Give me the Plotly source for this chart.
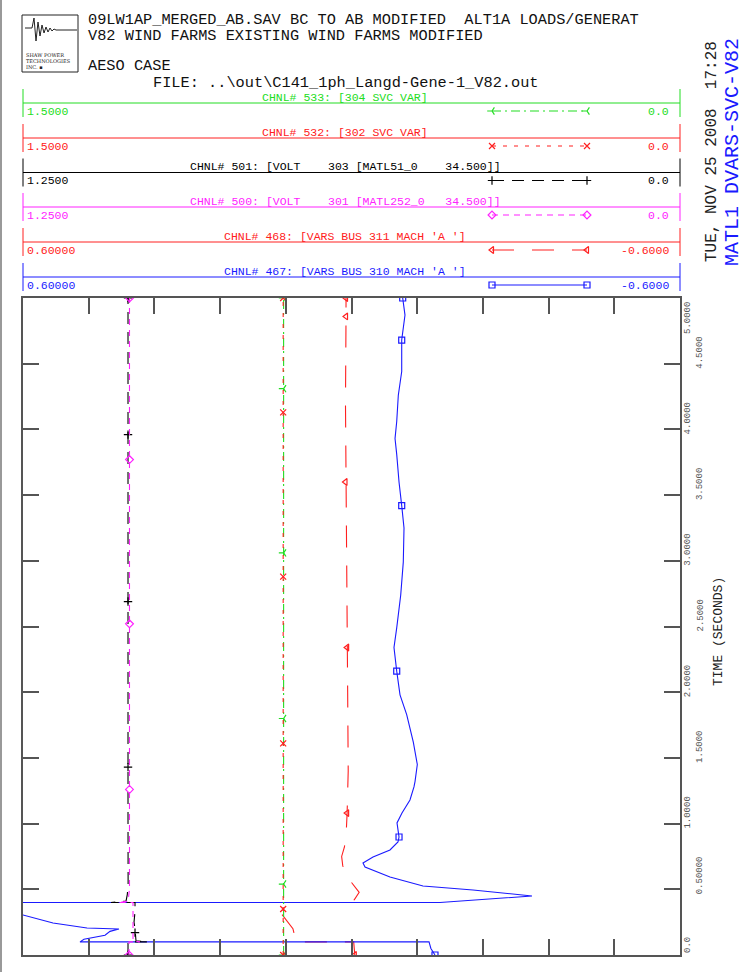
import plotly.graph_objects as go

W, H = 743, 972
FONT = "Liberation Mono"

# ---------------- data (time in seconds, values in channel units) ----------------
# CHNL# 467 VARS BUS 310 (blue)
t467 = [0.0, 0.05, 0.1, 0.1, 0.12, 0.15, 0.18, 0.198, 0.205, 0.244, 0.304, 0.35, 0.4, 0.4,
        0.419, 0.449, 0.495, 0.525, 0.594, 0.670, 0.700, 0.746, 0.799, 0.860, 0.898, 1.005,
        1.081, 1.180, 1.279, 1.32, 1.45, 1.62, 1.83, 1.98, 2.16, 2.34, 2.49, 2.74, 2.99,
        3.25, 3.42, 3.60, 3.81, 3.93, 4.06, 4.26, 4.44, 4.68, 4.87, 5.0]
v467 = [-0.1525, -0.1450, -0.1416, 0.4959, 0.4886, 0.4502, 0.4411, 0.4247, 0.4831, 0.5452,
        0.600, 0.660, 0.720, -0.1616, -0.2219, -0.3297, -0.2219, -0.1306, -0.0703, -0.0247,
        -0.0210, -0.0393, -0.0703, -0.0849, -0.0868, -0.0831, -0.0922, -0.1068, -0.1141,
        -0.1160, -0.1202, -0.1129, -0.1008, -0.0886, -0.0826, -0.0776, -0.0826, -0.0899,
        -0.0946, -0.0959, -0.0917, -0.0868, -0.0826, -0.0795, -0.0826, -0.0855, -0.0917,
        -0.0917, -0.0977, -0.0935]
m467_t = [0.0, 0.898, 2.16, 3.42, 4.68, 5.0]
m467_v = [-0.1525, -0.0868, -0.0826, -0.0917, -0.0917, -0.0935]

# CHNL# 468 VARS BUS 311 (red)
t468 = [0.0, 0.1, 0.1, 0.2, 0.33, 0.4, 0.4, 0.42, 0.477, 0.54, 0.6, 0.68, 0.75, 0.82, 0.9,
        1.08, 1.4, 2.0, 2.55, 3.0, 3.6, 4.2, 4.86, 5.0]
v468 = [-0.006, -0.004, 0.101, 0.107, 0.131, 0.145, 0.003, -0.005, -0.014, -0.002, 0.009,
        0.016, 0.018, 0.013, 0.010, 0.008, 0.006, 0.007, 0.008, 0.009, 0.011, 0.011, 0.010, 0.010]
m468_t = [0.0, 1.08, 2.34, 3.60, 4.86, 5.0]
m468_v = [-0.006, 0.008, 0.008, 0.011, 0.010, 0.010]

# CHNL# 500 VOLT 301 (magenta)
t500 = [0.0, 0.1, 0.1, 0.108, 0.2, 0.3, 0.4, 0.4, 0.41, 0.5, 1.0, 2.0, 3.0, 4.0, 5.0]
v500 = [1.0483, 1.0483, 1.0274, 1.0407, 1.0407, 1.0407, 1.0407, 1.0693, 1.0502, 1.0474,
        1.0474, 1.0474, 1.0474, 1.0474, 1.0474]
m500_t = [0.0, 1.26, 2.52, 3.77, 5.0]
m500_v = [1.0483, 1.0474, 1.0474, 1.0474, 1.0474]

# CHNL# 501 VOLT 303 (black)
t501 = [0.0, 0.1, 0.1, 0.108, 0.2, 0.25, 0.33, 0.4, 0.4, 0.41, 0.46, 0.53, 1.0, 2.0, 3.0, 4.0, 5.0]
v501 = [1.0502, 1.0502, 1.0122, 1.0350, 1.0369, 1.0388, 1.0369, 1.0369, 1.0826, 1.0540,
        1.0516, 1.0500, 1.0502, 1.0502, 1.0502, 1.0502, 1.0502]
m501_t = [0.0, 0.17, 1.43, 2.69, 3.96, 5.0]
m501_v = [1.0502, 1.0369, 1.0502, 1.0502, 1.0502, 1.0502]

# CHNL# 532 302 SVC VAR (red)
t532 = [0.0, 0.1, 0.4, 1.0, 2.0, 3.0, 4.0, 5.0]
v532 = [0.906, 0.906, 0.906, 0.906, 0.906, 0.906, 0.906, 0.906]
m532_t = [0.0, 0.35, 1.61, 2.88, 4.13, 5.0]
m532_v = [0.906, 0.906, 0.906, 0.906, 0.906, 0.906]

# CHNL# 533 304 SVC VAR (green)
t533 = [0.0, 0.1, 0.4, 1.0, 2.0, 3.0, 4.0, 5.0]
v533 = [0.905, 0.905, 0.905, 0.905, 0.905, 0.905, 0.905, 0.905]
m533_t = [0.0, 0.54, 1.80, 3.06, 4.31, 5.0]
m533_v = [0.905, 0.905, 0.905, 0.905, 0.905, 0.905]

# channel header info
chan_titles = ["CHNL# 533: [304 SVC VAR]",
               "CHNL# 532: [302 SVC VAR]",
               "CHNL# 501: [VOLT    303 [MATL51_0    34.500]]",
               "CHNL# 500: [VOLT    301 [MATL252_0   34.500]]",
               "CHNL# 468: [VARS BUS 311 MACH 'A ']",
               "CHNL# 467: [VARS BUS 310 MACH 'A ']"]
chan_left = ["1.5000", "1.5000", "1.2500", "1.2500", "0.60000", "0.60000"]
chan_right = ["0.0", "0.0", "0.0", "0.0", "-0.6000", "-0.6000"]

time_ticks = [0.0, 0.5, 1.0, 1.5, 2.0, 2.5, 3.0, 3.5, 4.0, 4.5, 5.0]
time_labels = ["0.0", "0.50000", "1.0000", "1.5000", "2.0000", "2.5000", "3.0000",
               "3.5000", "4.0000", "4.5000", "5.0000"]
var_ticks = [0.6, 0.48, 0.36, 0.24, 0.12, 0.0, -0.12, -0.24, -0.36, -0.48, -0.6]

# ---------------- styles ----------------
GREEN, RED, BLACK, MAG, BLUE = "#22dd22", "#ff2020", "#000000", "#ff22ff", "#1a1aff"
AX = "#555555"
styles = [  # (color, dash, symbol)
    (GREEN, "9px,4px,2px,4px", "y-left"),
    (RED, "4px,7px", "x-thin"),
    (BLACK, "12px,8px", "cross-thin"),
    (MAG, "6px,5px", "diamond-open"),
    (RED, "22px,18px", "triangle-left-open"),
    (BLUE, "solid", "square-open"),
]

fig = go.Figure()

def add_chan(t, v, m_t, m_v, idx, xa):
    col, dash, sym = styles[idx]
    fig.add_trace(go.Scatter(x=v, y=t, mode="lines", xaxis=xa, yaxis="y",
                             line=dict(color=col, width=1.1, dash=dash), hoverinfo="skip"))
    fig.add_trace(go.Scatter(x=m_v, y=m_t, mode="markers", xaxis=xa, yaxis="y",
                             marker=dict(symbol=sym, size=6, color=col,
                                         line=dict(color=col, width=1.2)),
                             hoverinfo="skip"))

add_chan(t533, v533, m533_t, m533_v, 0, "x2")
add_chan(t532, v532, m532_t, m532_v, 1, "x2")
add_chan(t501, v501, m501_t, m501_v, 2, "x3")
add_chan(t500, v500, m500_t, m500_v, 3, "x3")
add_chan(t468, v468, m468_t, m468_v, 4, "x")
add_chan(t467, v467, m467_t, m467_v, 5, "x")

# ---------------- header (pixel-space overlay axis x4/y4) ----------------
PL, PR = 23, 680
row_y = [103, 138, 172.5, 207, 242, 277]
shapes = []
annotations = []
for i, yy in enumerate(row_y):
    col, dash, sym = styles[i]
    shapes.append(dict(type="line", xref="x4", yref="y4", x0=PL, x1=PR, y0=yy, y1=yy,
                       line=dict(color=col, width=1)))
    for xx in (PL, PR):
        shapes.append(dict(type="line", xref="x4", yref="y4", x0=xx, x1=xx, y0=yy - 14, y1=yy + 14,
                           line=dict(color=col, width=1)))
    annotations.append(dict(xref="x4", yref="y4", x=345, y=yy - 6, text=chan_titles[i],
                            showarrow=False, xanchor="center", yanchor="middle",
                            font=dict(family=FONT, size=11.5, color=col)))
    annotations.append(dict(xref="x4", yref="y4", x=25, y=yy + 8, text=chan_left[i],
                            showarrow=False, xanchor="left", yanchor="middle",
                            font=dict(family=FONT, size=11.5, color=col)))
    annotations.append(dict(xref="x4", yref="y4", x=671, y=yy + 8, text=chan_right[i],
                            showarrow=False, xanchor="right", yanchor="middle",
                            font=dict(family=FONT, size=11.5, color=col)))
    fig.add_trace(go.Scatter(x=[492, 587], y=[yy + 8, yy + 8], mode="lines+markers",
                             xaxis="x4", yaxis="y4",
                             line=dict(color=col, width=1.1, dash=dash),
                             marker=dict(symbol=sym, size=6, color=col, line=dict(color=col, width=1.2)),
                             hoverinfo="skip"))

# title block
title_lines = [(88, 20, "09LW1AP_MERGED_AB.SAV BC TO AB MODIFIED  ALT1A LOADS/GENERAT"),
               (88, 36, "V82 WIND FARMS EXISTING WIND FARMS MODIFIED"),
               (88, 66, "AESO CASE"),
               (153, 83, "FILE: ..\\out\\C141_1ph_Langd-Gene-1_V82.out")]
for x0, y0, txt in title_lines:
    annotations.append(dict(xref="x4", yref="y4", x=x0 - 2, y=y0, text=txt, showarrow=False,
                            xanchor="left", yanchor="middle",
                            font=dict(family=FONT, size=15.3, color="#111111")))

# logo
shapes.append(dict(type="rect", xref="x4", yref="y4", x0=22, x1=78, y0=15, y1=72,
                   line=dict(color="#222222", width=1)))
shapes.append(dict(type="path", xref="x4", yref="y4",
                   path="M 25 28 L 32 28 L 34 18 L 36 41 L 38 22 L 40 36 L 42 25 L 44 33 L 46 27 "
                        "L 48 32 L 50 28 L 52 31 L 54 29 L 56 30 L 77 30",
                   line=dict(color="#222222", width=1)))
for k, s in enumerate(["SHAW POWER", "TECHNOLOGIES", "INC. \u25aa"]):
    annotations.append(dict(xref="x4", yref="y4", x=24, y=55 + 6 * k, text=s, showarrow=False,
                            xanchor="left", yanchor="middle",
                            font=dict(family="DejaVu Serif", size=5, color="#222222")))

# left page border
shapes.append(dict(type="line", xref="x4", yref="y4", x0=1, x1=1, y0=0, y1=H,
                   line=dict(color="#999999", width=2)))

# right side rotated texts
annotations.append(dict(xref="x4", yref="y4", x=712, y=152, text="TUE, NOV 25 2008  17:28",
                        showarrow=False, textangle=-90, xanchor="center", yanchor="middle",
                        font=dict(family=FONT, size=16, color="#222222")))
annotations.append(dict(xref="x4", yref="y4", x=732, y=152, text="MATL1 DVARS-SVC-V82",
                        showarrow=False, textangle=-90, xanchor="center", yanchor="middle",
                        font=dict(family=FONT, size=20, color=BLUE)))
annotations.append(dict(xref="x4", yref="y4", x=718, y=632, text="TIME (SECONDS)",
                        showarrow=False, textangle=-90, xanchor="center", yanchor="middle",
                        font=dict(family=FONT, size=13, color="#222222")))

# time tick labels (right side, alternating columns)
for k, (tv, tl) in enumerate(zip(time_ticks, time_labels)):
    xpix = 688 if k % 2 == 0 else 700
    if tv == 5.0:
        ya, ys = "top", -2
    elif tv == 0.0:
        ya, ys = "bottom", 0
    else:
        ya, ys = "bottom", -7
    annotations.append(dict(xref="x4", yref="y", x=xpix, y=tv, yshift=ys, text=tl,
                            showarrow=False, textangle=-90, xanchor="center", yanchor=ya,
                            font=dict(family=FONT, size=9, color="#555555")))

dom_x = [PL / W, PR / W]
dom_y = [1 - 955 / H, 1 - 298 / H]
hidden = dict(showgrid=False, zeroline=False, showticklabels=False, showline=False, ticks="")

fig.update_layout(
    width=W, height=H, autosize=False,
    margin=dict(l=0, r=0, t=0, b=0, pad=0),
    paper_bgcolor="white", plot_bgcolor="rgba(0,0,0,0)",
    showlegend=False,
    xaxis=dict(domain=dom_x, range=[0.6, -0.6], anchor="y", showgrid=False, zeroline=False,
               showticklabels=False, showline=True, linecolor=AX, linewidth=1.5, mirror="ticks",
               ticks="inside", ticklen=16, tickcolor=AX, tickwidth=1.5, tickmode="array",
               tickvals=var_ticks),
    xaxis2=dict(overlaying="x", range=[1.5, 0.0], anchor="y", **hidden),
    xaxis3=dict(overlaying="x", range=[1.25, 0.0], anchor="y", **hidden),
    yaxis=dict(domain=dom_y, range=[0, 5], anchor="x", showgrid=False, zeroline=False,
               showticklabels=False, showline=True, linecolor=AX, linewidth=1.5, mirror="ticks",
               ticks="inside", ticklen=16, tickcolor=AX, tickwidth=1.5, tickmode="array",
               tickvals=time_ticks),
    xaxis4=dict(domain=[0, 1], range=[0, W], anchor="y4", visible=False, fixedrange=True),
    yaxis4=dict(domain=[0, 1], range=[H, 0], anchor="x4", visible=False, fixedrange=True),
    shapes=shapes,
    annotations=annotations,
)

fig.write_html("out.html", config={"displayModeBar": False},
               post_script="document.body.style.margin='0px';document.body.style.overflow='hidden';")
